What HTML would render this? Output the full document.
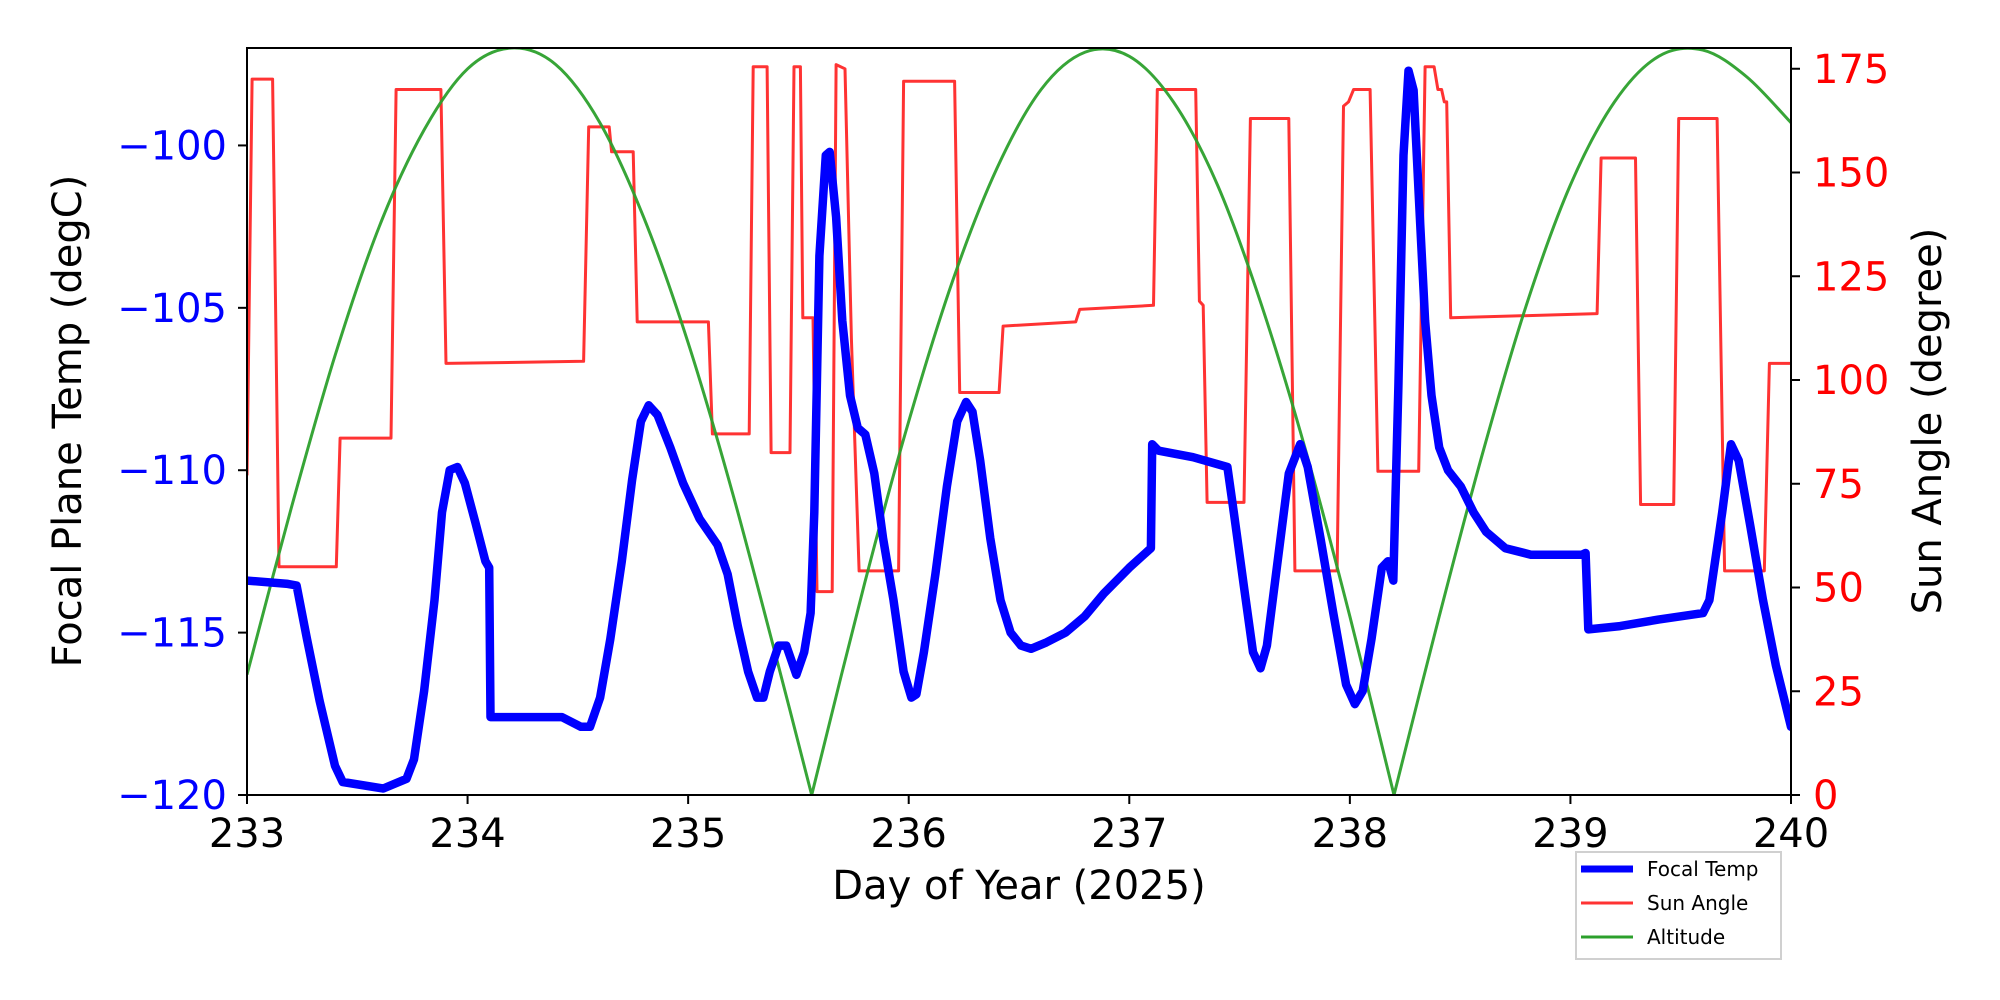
<!DOCTYPE html>
<html><head><meta charset="utf-8"><style>
body{margin:0;background:#fff}
svg{display:block;font-family:"DejaVu Sans","Liberation Sans",sans-serif}
</style></head><body>
<svg id="chart" width="2000" height="1000" viewBox="0 0 2000 1000" xmlns="http://www.w3.org/2000/svg">
<rect width="2000" height="1000" fill="#fff"/>
<defs><clipPath id="cp"><rect x="247" y="48" width="1544" height="750"/></clipPath></defs>
<g id="plot"></g>
<g id="axes"></g>
<g id="legend"></g>
</svg>
<script>
const xTicks=[233,234,235,236,237,238,239,240];
const tempTicks=[-120,-115,-110,-105,-100];
const sunTicks=[0,25,50,75,100,125,150,175];
const tempDays=[233.000,233.185,233.225,233.272,233.329,233.399,233.434,233.618,233.723,233.757,233.803,233.850,233.884,233.919,233.954,233.988,234.035,234.081,234.098,234.104,234.428,234.514,234.555,234.601,234.647,234.699,234.746,234.786,234.821,234.861,234.919,234.977,235.052,235.133,235.179,235.225,235.272,235.312,235.341,235.370,235.410,235.445,235.491,235.526,235.555,235.572,235.595,235.624,235.642,235.671,235.699,235.734,235.769,235.803,235.844,235.884,235.931,235.977,236.012,236.035,236.069,236.121,236.173,236.220,236.260,236.289,236.324,236.370,236.416,236.462,236.509,236.555,236.624,236.711,236.798,236.884,237.000,237.098,237.104,237.133,237.289,237.445,237.474,237.520,237.561,237.595,237.624,237.665,237.723,237.775,237.809,237.867,237.925,237.983,238.023,238.058,238.098,238.145,238.173,238.197,238.220,238.243,238.266,238.289,238.312,238.341,238.370,238.405,238.445,238.503,238.561,238.618,238.705,238.821,239.052,239.069,239.081,239.225,239.399,239.601,239.630,239.688,239.728,239.763,239.815,239.873,239.931,240.000];
const tempVals=[-113.4,-113.5,-113.55,-115.2,-117.1,-119.1,-119.6,-119.8,-119.5,-118.9,-116.8,-114.0,-111.3,-110.0,-109.9,-110.4,-111.6,-112.8,-113.0,-117.6,-117.6,-117.9,-117.9,-117.0,-115.2,-112.8,-110.3,-108.5,-108.0,-108.3,-109.3,-110.4,-111.5,-112.3,-113.2,-114.8,-116.2,-117.0,-117.0,-116.2,-115.4,-115.4,-116.3,-115.6,-114.4,-111.3,-103.4,-100.3,-100.2,-102.2,-105.4,-107.7,-108.7,-108.9,-110.1,-112.1,-114.0,-116.2,-117.0,-116.9,-115.6,-113.2,-110.5,-108.5,-107.9,-108.2,-109.7,-112.1,-114.0,-115.0,-115.4,-115.5,-115.3,-115.0,-114.5,-113.8,-113.0,-112.4,-109.2,-109.4,-109.6,-109.9,-111.3,-113.6,-115.6,-116.1,-115.4,-113.2,-110.1,-109.2,-109.9,-112.1,-114.4,-116.6,-117.2,-116.8,-115.2,-113.0,-112.8,-113.4,-107.4,-100.3,-97.7,-98.3,-101.5,-105.4,-107.7,-109.3,-110.0,-110.5,-111.3,-111.9,-112.4,-112.6,-112.6,-112.55,-114.9,-114.8,-114.6,-114.4,-114.0,-111.3,-109.2,-109.7,-111.7,-114.0,-116.0,-117.9];
const sunDays=[233,233.023,233.116,233.145,233.405,233.422,233.653,233.676,233.879,233.902,234.526,234.549,234.642,234.653,234.751,234.769,235.092,235.110,235.277,235.295,235.358,235.376,235.462,235.480,235.509,235.520,235.566,235.584,235.653,235.671,235.711,235.740,235.775,235.954,235.977,236.208,236.231,236.410,236.428,236.757,236.775,237.110,237.127,237.301,237.318,237.335,237.353,237.520,237.549,237.723,237.751,237.942,237.971,237.994,238.017,238.092,238.127,238.312,238.341,238.382,238.399,238.416,238.428,238.439,238.457,239.121,239.139,239.295,239.318,239.468,239.491,239.665,239.699,239.879,239.902,240];
const sunVals=[77,172.5,172.5,55,55,86,86,170,170,104,104.5,161,161,155,155,114,114,87,87,175.5,175.5,82.5,82.5,175.5,175.5,115,115,49,49,176,175,110,54,54,172,172,97,97,113,114,117,118,170,170,119,118,70.5,70.5,163,163,54,54,166,167,170,170,78,78,175.5,175.5,170,170,167,167,115,116,153.5,153.5,70,70,163,163,54,54,104,104];
const altDays=[233.0,233.2,233.4,233.6,233.8,234.0,234.2,234.4,234.6,234.8,235.0,235.2,235.4,235.56,235.8,236.0,236.2,236.4,236.6,236.8,237.0,237.2,237.4,237.6,237.8,238.0,238.2,238.4,238.6,238.8,239.0,239.2,239.4,239.6,239.8,240.0];
const altVals=[29,69,106,137,160,175,180,176,162,139,109,73,33,0,51,90,124,151,170,179,178,167,147,118,83,43,0,42,82,118,147,167,178,179.5,173,162];

const L=247,R=1791,T=48,B=795;
const X=d=>L+(d-233)/7*(R-L);
const YT=v=>B-(v+120)/23*(B-T);
const YS=v=>B-v/180*(B-T);
const NS="http://www.w3.org/2000/svg";
function mk(tag,attrs,parent){const e=document.createElementNS(NS,tag);for(const k in attrs)e.setAttribute(k,attrs[k]);parent.appendChild(e);return e;}
const plot=document.getElementById('plot'),axes=document.getElementById('axes'),leg=document.getElementById('legend');
function pts(ds,vs,f){return ds.map((d,i)=>X(d).toFixed(1)+','+f(vs[i]).toFixed(1)).join(' ');}
function smoothPath(ds,vs,f){
 const P=ds.map((d,i)=>[X(d),f(vs[i])]);
 let s='M'+P[0][0].toFixed(1)+','+P[0][1].toFixed(1);
 for(let i=0;i<P.length-1;i++){
  const p0=P[i-1]||P[i],p1=P[i],p2=P[i+1],p3=P[i+2]||P[i+1];
  const sharp1=vs[i]===0, sharp2=vs[i+1]===0;
  const c1=sharp1?p1:[p1[0]+(p2[0]-p0[0])/6,p1[1]+(p2[1]-p0[1])/6];
  const c2=sharp2?p2:[p2[0]-(p3[0]-p1[0])/6,p2[1]-(p3[1]-p1[1])/6];
  s+=' C'+c1[0].toFixed(1)+','+c1[1].toFixed(1)+' '+c2[0].toFixed(1)+','+c2[1].toFixed(1)+' '+p2[0].toFixed(1)+','+p2[1].toFixed(1);
 }
 return s;
}
let p=mk('polyline',{points:pts(sunDays,sunVals,YS),fill:'none',stroke:'#ff0000','stroke-opacity':0.8,'stroke-width':3,'stroke-linejoin':'round','clip-path':'url(#cp)'},plot);


p=mk('path',{d:smoothPath(altDays,altVals,YS),fill:'none',stroke:'#2ca02c','stroke-opacity':0.95,'stroke-width':3,'clip-path':'url(#cp)'},plot);


p=mk('polyline',{points:pts(tempDays,tempVals,YT),fill:'none',stroke:'#0000ff','stroke-width':8.5,'stroke-linejoin':'round','stroke-linecap':'round','clip-path':'url(#cp)'},plot);



let fr=mk('rect',{x:L,y:T,width:R-L,height:B-T,fill:'none',stroke:'#000','stroke-width':2},axes);


xTicks.forEach(t=>{mk('line',{x1:X(t),x2:X(t),y1:B,y2:B+9,stroke:'#000','stroke-width':2},axes);
 const e=mk('text',{x:X(t),y:B+52,'font-size':40,'text-anchor':'middle',fill:'#000'},axes);e.textContent=t;
 
 });
tempTicks.forEach(t=>{mk('line',{x1:L,x2:L-9,y1:YT(t),y2:YT(t),stroke:'#000','stroke-width':2},axes);
 const e=mk('text',{x:L-20,y:YT(t)+14,'font-size':40,'text-anchor':'end',fill:'#0000ff'},axes);e.textContent='\u2212'+Math.abs(t);
 
 });
sunTicks.forEach(t=>{mk('line',{x1:R,x2:R+9,y1:YS(t),y2:YS(t),stroke:'#000','stroke-width':2},axes);
 const e=mk('text',{x:R+22,y:YS(t)+14,'font-size':40,'text-anchor':'start',fill:'#ff0000'},axes);e.textContent=t;
 
 });
let e=mk('text',{x:(L+R)/2,y:899,'font-size':40,'text-anchor':'middle',fill:'#000'},axes);e.textContent='Day of Year (2025)';


e=mk('text',{x:81,y:421,'font-size':40,'text-anchor':'middle',fill:'#000',transform:'rotate(-90 81 421)'},axes);e.textContent='Focal Plane Temp (degC)';


e=mk('text',{x:1941,y:421,'font-size':40,'text-anchor':'middle',fill:'#000',transform:'rotate(-90 1941 421)'},axes);e.textContent='Sun Angle (degree)';



mk('rect',{x:1576,y:852,width:205,height:107,fill:'#fff',stroke:'#d0d0d0','stroke-width':2},leg);
const legNames=['Focal Temp','Sun Angle','Altitude'];
const legCols=['#0000ff','rgba(255,0,0,0.8)','#2ca02c'];
const legW=[7,3,3];
legNames.forEach((n,i)=>{const y=869+i*34;
 const g=mk('g',{},leg);
 
 
 mk('line',{x1:1581,x2:1633,y1:y,y2:y,stroke:legCols[i],'stroke-width':legW[i]},g);
 const t=mk('text',{x:1647,y:y+7,'font-size':20,fill:'#000'},g);t.textContent=n;});
</script>
</body></html>
